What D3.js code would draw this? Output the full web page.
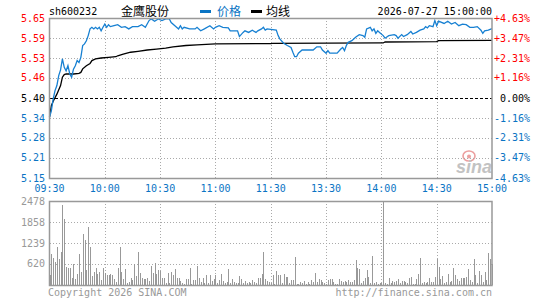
<!DOCTYPE html>
<html>
<head>
<meta charset="utf-8">
<script src="https://cdn.jsdelivr.net/npm/d3@7"></script>
<style>
  body { margin: 0; background: #fff; }
  text { font-family: "DejaVu Sans Mono", monospace; font-size: 10px; }
</style>
</head>
<body>
<div id="chart"></div>
<script>
// Intraday data (minutes counted from 09:30, lunch break removed)
const stockCode = 'sh600232';
const stockName = '金鹰股份';
const stamp = '2026-07-27 15:00:00';

const timeTickMinutes = [0, 30, 60, 90, 120, 150, 180, 210, 240];
const timeTickLabels = ['09:30', '10:00', '10:30', '11:00', '11:30', '13:30', '14:00', '14:30', '15:00'];

const pctTicks = [4.63, 3.47, 2.31, 1.16, 0, -1.16, -2.31, -3.47, -4.63];
const pctLabels = ['+4.63%', '+3.47%', '+2.31%', '+1.16%', '0.00%', '-1.16%', '-2.31%', '-3.47%', '-4.63%'];
const priceLabels = ['5.65', '5.59', '5.53', '5.46', '5.40', '5.34', '5.28', '5.21', '5.15'];

const volTicks = [620, 1239, 1858, 2478];

const priceMinutes = [0,1,2,3,4,5,6,7,8,9,10,11,12,13,14,15,16,17,18,19,20,21,22,23,24,25,26,27,28,29,30,31,32,33,35,37,39,41,43,45,48,50,52,54,55,56,57,59,61,63,65,66,68,70,71,72,73,76,79,80,82,84,87,89,90,92,94,97,98,102,103,105,106,108,110,112,113,115,116,117,118,123,124,125,127,129,131,132,133,134,135,137,143,145,147,148,150,151,152,156,158,159,160,161,162,164,166,168,170,171,172,174,175,176,177,178,179,181,182,184,187,188,189,191,192,194,196,197,199,201,203,204,205,206,208,209,210,211,214,216,218,220,222,224,226,228,230,232,234,235,236,238,240];
const priceValues = [5.340,5.360,5.397,5.423,5.439,5.470,5.488,5.522,5.496,5.485,5.501,5.475,5.465,5.490,5.501,5.517,5.511,5.527,5.564,5.569,5.579,5.595,5.616,5.621,5.616,5.621,5.616,5.621,5.610,5.621,5.631,5.621,5.629,5.623,5.626,5.629,5.621,5.623,5.616,5.623,5.623,5.629,5.621,5.642,5.647,5.644,5.640,5.647,5.642,5.647,5.647,5.636,5.626,5.616,5.626,5.616,5.621,5.616,5.616,5.621,5.610,5.616,5.626,5.616,5.621,5.626,5.621,5.619,5.610,5.610,5.592,5.605,5.610,5.605,5.612,5.605,5.610,5.616,5.621,5.612,5.616,5.612,5.595,5.584,5.571,5.564,5.558,5.543,5.529,5.529,5.540,5.550,5.550,5.560,5.560,5.550,5.540,5.548,5.540,5.540,5.553,5.558,5.548,5.564,5.574,5.579,5.590,5.598,5.595,5.590,5.616,5.621,5.610,5.616,5.602,5.610,5.605,5.595,5.587,5.595,5.598,5.595,5.587,5.598,5.592,5.598,5.608,5.600,5.605,5.612,5.616,5.623,5.619,5.626,5.623,5.642,5.626,5.640,5.633,5.640,5.631,5.636,5.626,5.631,5.629,5.621,5.621,5.623,5.612,5.602,5.610,5.612,5.617];

const avgMinutes = [0,1,2,4,6,7,8,9,13,16,17,18,20,22,23,25,28,32,36,37,40,44,48,53,58,63,67,74,80,90,120,121,181,182,210,211,240];
const avgValues = [5.340,5.376,5.390,5.412,5.439,5.465,5.473,5.475,5.475,5.477,5.480,5.491,5.501,5.508,5.517,5.522,5.525,5.527,5.529,5.532,5.537,5.543,5.546,5.550,5.553,5.556,5.560,5.564,5.566,5.569,5.570,5.571,5.572,5.575,5.576,5.579,5.580];

const volumes = [
  285,924,806,688,1121,757,983,2360,1957,541,511,492,216,629,187,315,924,393,1495,1327,
  433,1721,1131,256,393,511,334,393,138,511,364,295,285,315,295,167,98,511,1131,393,
  167,462,69,98,216,138,629,275,983,364,197,177,167,216,118,560,354,659,334,433,
  413,197,197,59,364,69,393,295,462,216,216,118,69,39,167,167,511,39,138,138,
  570,197,98,216,59,295,69,285,118,187,295,69,138,315,118,59,98,482,59,187,
  98,59,59,275,167,59,118,59,88,59,138,98,59,216,216,334,983,167,118,98,
  49,295,39,413,295,295,59,334,246,246,69,157,157,826,39,39,98,69,118,39,
  98,39,157,98,364,88,167,138,98,59,39,157,187,187,88,39,39,187,118,88,
  118,88,138,98,88,147,728,511,462,59,118,216,433,246,59,865,59,98,39,59,
  59,2478,59,39,216,59,118,88,118,187,59,118,118,98,59,216,246,39,39,187,
  315,806,59,79,59,79,216,98,79,246,777,531,167,275,59,98,315,79,118,511,
  295,187,118,197,197,197,236,462,138,98,777,283,59,422,283,98,390,150,944,776,
  610
];

const W = 545, H = 300;
const left = 49.5, right = 492;
const pTop = 18, pBottom = 178;
const vTop = 201, vBottom = 285;

const blue = '#0a74c4', red = '#ff0000', grey = '#999999';

const svg = d3.select('#chart').append('svg')
  .attr('width', W).attr('height', H);

const x = d3.scaleLinear().domain([0, 240]).range([left, right]);
const yPct = d3.scaleLinear().domain([-4.63, 4.63]).range([pBottom, pTop]);
const yPrice = d3.scaleLinear().domain([5.15, 5.65]).range([pBottom, pTop]);
const yVol = d3.scaleLinear().domain([0, 2478]).range([vBottom, vTop]);

// header
svg.append('text').attr('x', 49).attr('y', 15).text(stockCode);
svg.append('text').attr('x', 121).attr('y', 16)
  .style('font-family', '"Noto Sans CJK SC"').style('font-size', '12px').text(stockName);
svg.append('line').attr('x1', 200).attr('x2', 211).attr('y1', 11.5).attr('y2', 11.5)
  .attr('stroke', blue).attr('stroke-width', 3);
svg.append('text').attr('x', 217).attr('y', 16)
  .style('font-family', '"Noto Sans CJK SC"').style('font-size', '12px').attr('fill', blue).text('价格');
svg.append('line').attr('x1', 251).attr('x2', 262).attr('y1', 11.5).attr('y2', 11.5)
  .attr('stroke', '#000').attr('stroke-width', 3);
svg.append('text').attr('x', 266).attr('y', 16)
  .style('font-family', '"Noto Sans CJK SC"').style('font-size', '12px').text('均线');
svg.append('text').attr('x', right).attr('y', 15).attr('text-anchor', 'end').text(stamp);

// sina watermark (rough)
const logo = svg.append('g').attr('opacity', 0.6);
logo.append('ellipse').attr('cx', 469).attr('cy', 156).attr('rx', 6).attr('ry', 5)
  .attr('fill', 'none').attr('stroke', '#e06060').attr('stroke-width', 1.6);
logo.append('circle').attr('cx', 469).attr('cy', 156.5).attr('r', 2).attr('fill', '#e06060');
logo.append('text').attr('x', 456).attr('y', 173)
  .style('font-family', 'Arial, "Liberation Sans"').style('font-size', '18px')
  .style('font-weight', 'bold').style('font-style', 'italic').attr('fill', '#9a9a9a').text('sina');

// grid: price pane
const grid = svg.append('g').attr('shape-rendering', 'crispEdges');
grid.selectAll('.hg').data(pctTicks.filter(d => d !== 0 && Math.abs(d) < 4.6)).enter().append('line')
  .attr('x1', left).attr('x2', right)
  .attr('y1', d => Math.round(yPct(d)) + 0.5).attr('y2', d => Math.round(yPct(d)) + 0.5)
  .attr('stroke', '#aaa').attr('stroke-dasharray', '1,2');
grid.append('line').attr('x1', left).attr('x2', right)
  .attr('y1', Math.round(yPct(0)) + 0.5).attr('y2', Math.round(yPct(0)) + 0.5)
  .attr('stroke', '#000').attr('stroke-dasharray', '3,2');
grid.selectAll('.vg').data(timeTickMinutes.slice(1, -1)).enter().append('line')
  .attr('x1', d => Math.round(x(d)) + 0.5).attr('x2', d => Math.round(x(d)) + 0.5)
  .attr('y1', pTop).attr('y2', pBottom)
  .attr('stroke', '#aaa').attr('stroke-dasharray', '1,2');

// grid: volume pane
grid.selectAll('.vh').data(volTicks.slice(0, -1)).enter().append('line')
  .attr('x1', left).attr('x2', right)
  .attr('y1', d => Math.round(yVol(d)) + 0.5).attr('y2', d => Math.round(yVol(d)) + 0.5)
  .attr('stroke', '#aaa').attr('stroke-dasharray', '1,2');
grid.selectAll('.vv').data(timeTickMinutes.slice(1, -1)).enter().append('line')
  .attr('x1', d => Math.round(x(d)) + 0.5).attr('x2', d => Math.round(x(d)) + 0.5)
  .attr('y1', vTop).attr('y2', vBottom)
  .attr('stroke', '#aaa').attr('stroke-dasharray', '1,2');

// volume bars
svg.append('g').attr('shape-rendering', 'crispEdges')
  .selectAll('rect').data(volumes).enter().append('rect')
  .attr('x', (d, i) => Math.round(x(i)))
  .attr('width', 1)
  .attr('y', d => yVol(d))
  .attr('height', d => vBottom - yVol(d))
  .attr('fill', grey);

// lines
const avgLine = d3.line().x(d => x(d[0])).y(d => yPrice(d[1]));
svg.append('path').datum(avgMinutes.map((m, i) => [m, avgValues[i]]))
  .attr('d', avgLine).attr('fill', 'none').attr('stroke', '#000').attr('stroke-width', 1.3);
svg.append('path').datum(priceMinutes.map((m, i) => [m, priceValues[i]]))
  .attr('d', avgLine).attr('fill', 'none').attr('stroke', '#1780d2').attr('stroke-width', 1.3);

// frames
svg.append('rect').attr('x', left).attr('y', pTop + 0.5).attr('width', right - left).attr('height', pBottom - pTop)
  .attr('fill', 'none').attr('stroke', grey).attr('stroke-width', 1.5);
svg.append('rect').attr('x', left).attr('y', vTop + 0.5).attr('width', right - left).attr('height', vBottom - vTop)
  .attr('fill', 'none').attr('stroke', grey).attr('stroke-width', 1.5);

// left price labels / right percent labels
const tickColor = d => d > 0 ? red : (d < 0 ? blue : '#000');
svg.selectAll('.pl').data(pctTicks).enter().append('text')
  .attr('x', 45).attr('y', d => yPct(d) + 3.5).attr('text-anchor', 'end')
  .attr('fill', tickColor).text((d, i) => priceLabels[i]);
svg.selectAll('.pr').data(pctTicks).enter().append('text')
  .attr('x', 530).attr('y', d => yPct(d) + 3.5).attr('text-anchor', 'end')
  .attr('fill', tickColor).text((d, i) => pctLabels[i]);

// time labels
svg.selectAll('.tl').data(timeTickMinutes).enter().append('text')
  .attr('x', d => x(d)).attr('y', 192).attr('text-anchor', 'middle')
  .attr('fill', blue).text((d, i) => timeTickLabels[i]);

// volume labels
svg.selectAll('.vl').data(volTicks).enter().append('text')
  .attr('x', 45).attr('y', d => yVol(d) + 3.5).attr('text-anchor', 'end')
  .attr('fill', grey).text(d => d);

// footer
svg.append('text').attr('x', 48).attr('y', 296).attr('fill', grey).text('Copyright 2026 SINA.COM');
svg.append('text').attr('x', right).attr('y', 296).attr('text-anchor', 'end').attr('fill', grey).text('http://finance.sina.com.cn');
</script>
</body>
</html>
